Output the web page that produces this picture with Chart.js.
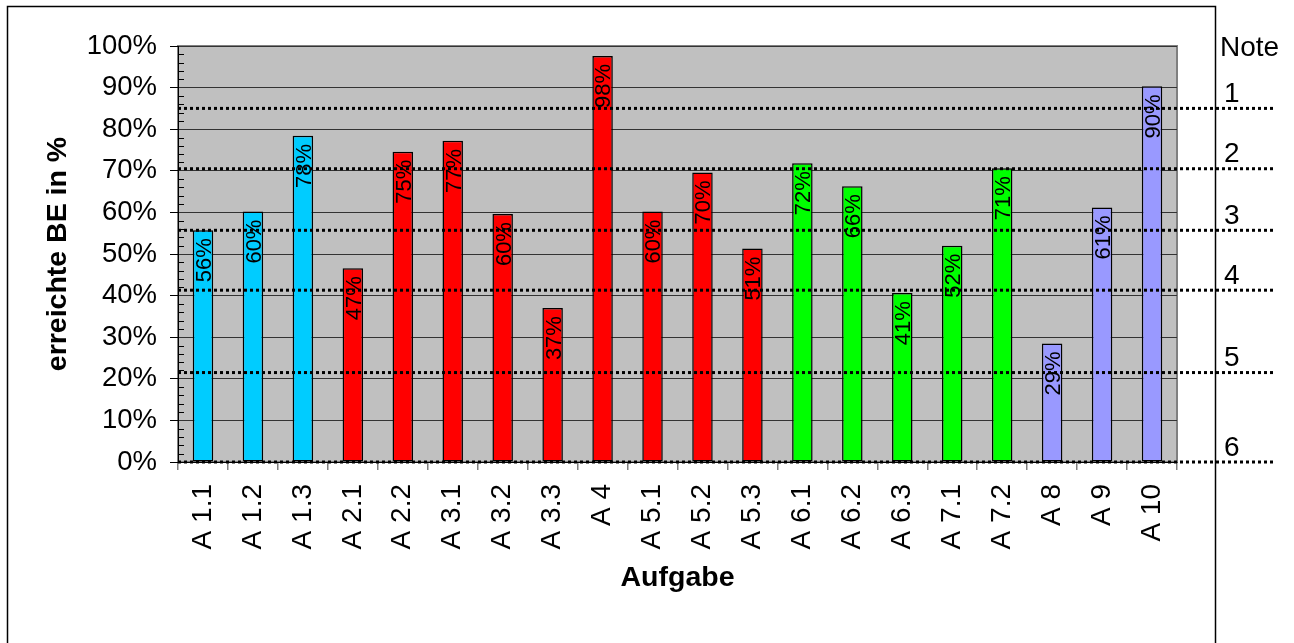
<!DOCTYPE html>
<html>
<head>
<meta charset="utf-8">
<script src="https://cdn.jsdelivr.net/npm/chart.js@4/dist/chart.umd.min.js"></script>
<style>
  body { margin: 0; background: #fff; }
  canvas { display: block; }
</style>
</head>
<body>
<canvas id="beChart" width="1294" height="643"></canvas>
<script>
// Aufgaben und erreichte BE in %
var aufgaben = ['A 1.1', 'A 1.2', 'A 1.3', 'A 2.1', 'A 2.2', 'A 3.1', 'A 3.2', 'A 3.3', 'A 4',
  'A 5.1', 'A 5.2', 'A 5.3', 'A 6.1', 'A 6.2', 'A 6.3', 'A 7.1', 'A 7.2', 'A 8', 'A 9', 'A 10'];
var erreicht = [55.7, 60.2, 78.4, 46.6, 74.6, 77.2, 59.6, 37.0, 97.6,
  60.2, 69.6, 51.3, 71.8, 66.3, 40.6, 52.0, 70.6, 28.5, 61.2, 90.3];
var gruppe = [0, 0, 0, 1, 1, 1, 1, 1, 1, 1, 1, 1, 2, 2, 2, 2, 2, 3, 3, 3];
var gruppenFarben = ['#00CCFF', '#FF0000', '#00FF00', '#9999FF'];

// Notengrenzen (gepunktete Linien)
var noten = ['1', '2', '3', '4', '5', '6'];
var notenGrenzen = [85, 70.5, 55.7, 41.3, 21.5, 0];

var yTicks = [0, 10, 20, 30, 40, 50, 60, 70, 80, 90, 100];

var FONT = 'Arial, "Liberation Sans", sans-serif';

var extras = {
  id: 'extras',
  beforeDraw: function(chart) {
    var ctx = chart.ctx, a = chart.chartArea;
    ctx.save();
    ctx.fillStyle = '#fff';
    ctx.fillRect(0, 0, chart.width, chart.height);
    ctx.strokeStyle = '#000';
    ctx.lineWidth = 1.5;
    ctx.strokeRect(7.5, 6.5, 1208, 700);
    ctx.fillStyle = '#C0C0C0';
    ctx.fillRect(a.left, a.top, a.right - a.left, a.bottom - a.top);
    ctx.strokeStyle = '#808080';
    ctx.lineWidth = 2;
    ctx.strokeRect(a.left, a.top, a.right - a.left, a.bottom - a.top);
    ctx.restore();
  },
  afterDatasetsDraw: function(chart) {
    var ctx = chart.ctx, a = chart.chartArea;
    var y = chart.scales.y;
    ctx.save();
    // minor ticks
    ctx.strokeStyle = '#000';
    ctx.lineWidth = 1;
    for (var v = 2; v < 100; v += 2) {
      if (v % 10 === 0) continue;
      var py = Math.round(y.getPixelForValue(v)) + 0.5;
      ctx.beginPath();
      ctx.moveTo(a.left, py);
      ctx.lineTo(a.left + 6, py);
      ctx.stroke();
    }
    // Notengrenzen
    ctx.lineWidth = 3;
    ctx.setLineDash([3, 3]);
    ctx.font = '28px ' + FONT;
    ctx.textBaseline = 'middle';
    ctx.textAlign = 'left';
    ctx.fillStyle = '#000';
    notenGrenzen.forEach(function(g, i) {
      var py = y.getPixelForValue(g);
      ctx.beginPath();
      ctx.moveTo(a.left, py);
      ctx.lineTo(1273, py);
      ctx.stroke();
      ctx.fillText(noten[i], 1224, py - 14);
    });
    ctx.fillText('Note', 1220, 48);
    ctx.setLineDash([]);
    // Werte in den Balken
    var meta = chart.getDatasetMeta(0);
    var size = 22;
    ctx.font = size + 'px ' + FONT;
    ctx.textAlign = 'right';
    ctx.textBaseline = 'alphabetic';
    meta.data.forEach(function(bar, i) {
      ctx.save();
      ctx.translate(bar.x + size * 0.36, bar.y + 8);
      ctx.rotate(-Math.PI / 2);
      ctx.fillText(Math.round(erreicht[i]) + '%', 0, 0);
      ctx.restore();
    });
    ctx.restore();
  }
};

var beChart = new Chart(document.getElementById('beChart'), {
  type: 'bar',
  data: {
    labels: aufgaben,
    datasets: [{
      data: erreicht,
      backgroundColor: gruppe.map(function(g) { return gruppenFarben[g]; }),
      borderColor: '#000',
      borderWidth: 1.5,
      borderSkipped: false,
      barPercentage: 0.41,
      categoryPercentage: 1
    }]
  },
  options: {
    responsive: false,
    animation: false,
    layout: { padding: { left: 0, top: 46, right: 117, bottom: 0 } },
    plugins: {
      legend: { display: false },
      tooltip: { enabled: false }
    },
    scales: {
      x: {
        afterFit: function(scale) { scale.height = 181; },
        grid: { drawOnChartArea: false, color: '#808080', tickLength: 8, lineWidth: 1.5 },
        border: { color: '#000', width: 1 },
        ticks: {
          color: '#000',
          autoSkip: false,
          minRotation: 90,
          maxRotation: 90,
          padding: 14,
          font: { family: FONT, size: 28 }
        },
        title: {
          display: true,
          text: 'Aufgabe',
          color: '#000',
          padding: { top: 0, bottom: 48 },
          font: { family: FONT, size: 28.5, weight: 'bold' }
        }
      },
      y: {
        min: 0,
        max: 100,
        afterFit: function(scale) { scale.width = 178; },
        afterBuildTicks: function(scale) {
          scale.ticks = yTicks.map(function(v) { return { value: v }; });
        },
        grid: { color: '#333', tickColor: '#000', tickLength: 8, lineWidth: 1 },
        border: { color: '#000', width: 1 },
        ticks: {
          color: '#000',
          padding: 13,
          callback: function(v) { return v + '%'; },
          font: { family: FONT, size: 27.5 }
        },
        title: {
          display: true,
          text: 'erreichte BE in %',
          color: '#000',
          padding: { top: 41, bottom: 0 },
          font: { family: FONT, size: 28.5, weight: 'bold' }
        }
      }
    }
  },
  plugins: [extras]
});
</script>
</body>
</html>
